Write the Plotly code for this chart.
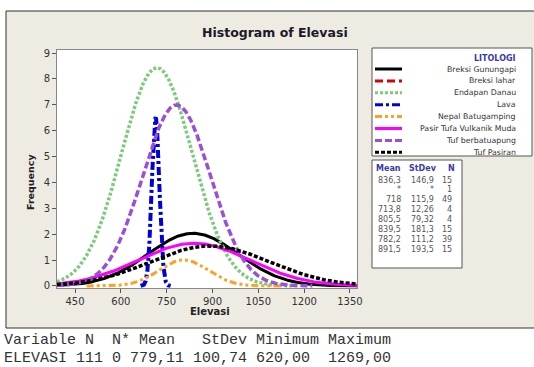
import numpy as np
import plotly.graph_objects as go

# ---------------- data ----------------
groups = ["Breksi Gunungapi", "Breksi lahar", "Endapan Danau", "Lava",
          "Nepal Batugamping", "Pasir Tufa Vulkanik Muda", "Tuf berbatuapung", "Tuf Pasiran"]
means = [836.3, None, 718.0, 713.8, 805.5, 839.5, 782.2, 891.5]
stdevs = [146.9, None, 115.9, 12.26, 79.32, 181.3, 111.2, 193.5]
counts = [15, 1, 49, 4, 4, 15, 39, 15]
mean_text = ["836,3", "*", "718", "713,8", "805,5", "839,5", "782,2", "891,5"]
sd_text = ["146,9", "*", "115,9", "12,26", "79,32", "181,3", "111,2", "193,5"]
n_text = ["15", "1", "49", "4", "4", "15", "39", "15"]
bin_width = 50
x_ticks = [450, 600, 750, 900, 1050, 1200, 1350]
y_ticks = [0, 1, 2, 3, 4, 5, 6, 7, 8, 9]
summary_header = "Variable N  N* Mean   StDev Minimum Maximum"
summary_row = "ELEVASI 111 0 779,11 100,74 620,00  1269,00"

# ---------------- styles ----------------
colors = ["#000000", "#dd0000", "#7ccb7c", "#0000dd", "#ffa020", "#ff00ff", "#9b4fd8", "#000000"]
dashes = ["solid", "8px,4px", "3px,2px", "8px,3px,3px,3px", "7px,3px,3px,3px,3px,3px",
          "solid", "7px,3px", "4px,2px"]
widths = [3, 3, 3.5, 4, 3, 3, 3.5, 3.5]
SD_SPAN = 4  # fitted curves drawn over mean +/- 4 sd

X0, X1 = 391, 1373
Y0, Y1 = -0.08, 9.12
L, R, T, B = 57, 357, 50, 288
W, H = 534, 367

def px(x):
    return (x - L) / (R - L)

def py(y):
    return (B - y) / (B - T)

fig = go.Figure()
for g, m, s, n, c, d, w in zip(groups, means, stdevs, counts, colors, dashes, widths):
    if m is None or s is None:
        continue
    lo = max(X0, m - SD_SPAN * s)
    hi = min(X1, m + SD_SPAN * s)
    xs = np.linspace(lo, hi, 1500)
    ys = n * bin_width / (s * np.sqrt(2 * np.pi)) * np.exp(-0.5 * ((xs - m) / s) ** 2)
    fig.add_trace(go.Scatter(x=xs, y=ys, mode="lines", name=g,
                             line=dict(color=c, dash=d, width=w), showlegend=False,
                             hoverinfo="skip"))

shapes = []
annotations = []
FONT = "DejaVu Sans"

# background frame
shapes.append(dict(type="rect", xref="paper", yref="paper", layer="below",
                   x0=px(6), x1=px(540), y0=py(328), y1=py(11),
                   fillcolor="#eeebe2", line=dict(color="#333333", width=1)))
# plot area background
shapes.append(dict(type="rect", xref="paper", yref="paper", layer="below",
                   x0=0, x1=1, y0=0, y1=1, fillcolor="#ffffff", line=dict(width=0)))

# legend box
shapes.append(dict(type="rect", xref="paper", yref="paper",
                   x0=px(372), x1=px(532), y0=py(156), y1=py(48),
                   fillcolor="#ffffff", line=dict(color="#555555", width=1)))
annotations.append(dict(xref="paper", yref="paper", x=px(518), y=py(58), xanchor="right",
                        yanchor="middle", showarrow=False, text="<b>LITOLOGI</b>",
                        font=dict(family=FONT, size=8, color="#3a3aa8")))
for i, (g, c, d, w) in enumerate(zip(groups, colors, dashes, widths)):
    yy = 69 + 11.9 * i
    shapes.append(dict(type="line", xref="paper", yref="paper",
                       x0=px(375), x1=px(402), y0=py(yy), y1=py(yy),
                       line=dict(color=c, dash=d, width=3)))
    annotations.append(dict(xref="paper", yref="paper", x=px(518), y=py(yy), xanchor="right",
                            yanchor="middle", showarrow=False, text=g,
                            font=dict(family=FONT, size=7.8, color="#333333")))

# stats table
shapes.append(dict(type="rect", xref="paper", yref="paper",
                   x0=px(372), x1=px(462), y0=py(268), y1=py(160),
                   fillcolor="#ffffff", line=dict(color="#555555", width=1)))
for label, xc in [("Mean", 388), ("StDev", 423), ("N", 451)]:
    annotations.append(dict(xref="paper", yref="paper", x=px(xc), y=py(168), xanchor="center",
                            yanchor="middle", showarrow=False, text="<b>" + label + "</b>",
                            font=dict(family=FONT, size=8, color="#3a3aa8")))
for i, (mt, st, nt) in enumerate(zip(mean_text, sd_text, n_text)):
    yy = 180 + 9.9 * i
    for txt, xr in [(mt, 403), (st, 436), (nt, 454)]:
        annotations.append(dict(xref="paper", yref="paper", x=px(xr), y=py(yy), xanchor="right",
                                yanchor="middle", showarrow=False, text=txt,
                                font=dict(family=FONT, size=8, color="#555555")))

# titles
annotations.append(dict(xref="paper", yref="paper", x=px(275), y=py(32), xanchor="center",
                        yanchor="middle", showarrow=False, text="<b>Histogram of Elevasi</b>",
                        font=dict(family=FONT, size=12.5, color="#1a1a2a")))
annotations.append(dict(xref="paper", yref="paper", x=px(210), y=py(311), xanchor="center",
                        yanchor="middle", showarrow=False, text="<b>Elevasi</b>",
                        font=dict(family=FONT, size=10, color="#222222")))
annotations.append(dict(xref="paper", yref="paper", x=px(30), y=py(182), xanchor="center",
                        yanchor="middle", showarrow=False, text="<b>Frequency</b>", textangle=-90,
                        font=dict(family=FONT, size=9.5, color="#222222")))

# summary text below chart
for txt, yy in [(summary_header, 340.5), (summary_row, 358)]:
    annotations.append(dict(xref="paper", yref="paper", x=px(2), y=py(yy), xanchor="left",
                            yanchor="middle", showarrow=False, text=txt.replace(" ", "\u00a0"),
                            font=dict(family="Liberation Mono", size=15, color="#333333")))

fig.update_layout(
    width=W, height=H,
    margin=dict(l=L, r=W - R, t=T, b=H - B, pad=0),
    paper_bgcolor="#ffffff", plot_bgcolor="rgba(0,0,0,0)",
    shapes=shapes, annotations=annotations,
    xaxis=dict(range=[X0, X1], tickvals=x_ticks, ticktext=[str(v) for v in x_ticks],
               showgrid=False, zeroline=False, showline=True, mirror=True,
               linecolor="#888888", linewidth=1, ticks="outside", ticklen=4,
               tickcolor="#555555", tickfont=dict(family=FONT, size=10, color="#333333")),
    yaxis=dict(range=[Y0, Y1], tickvals=y_ticks, ticktext=[str(v) for v in y_ticks],
               showgrid=False, zeroline=False, showline=True, mirror=True,
               linecolor="#888888", linewidth=1, ticks="outside", ticklen=4,
               tickcolor="#555555", tickfont=dict(family=FONT, size=10, color="#333333")),
    showlegend=False,
)

fig.write_html("out.html", config={"displayModeBar": False},
               post_script="document.body.style.margin='0px';document.body.style.padding='0px';")
